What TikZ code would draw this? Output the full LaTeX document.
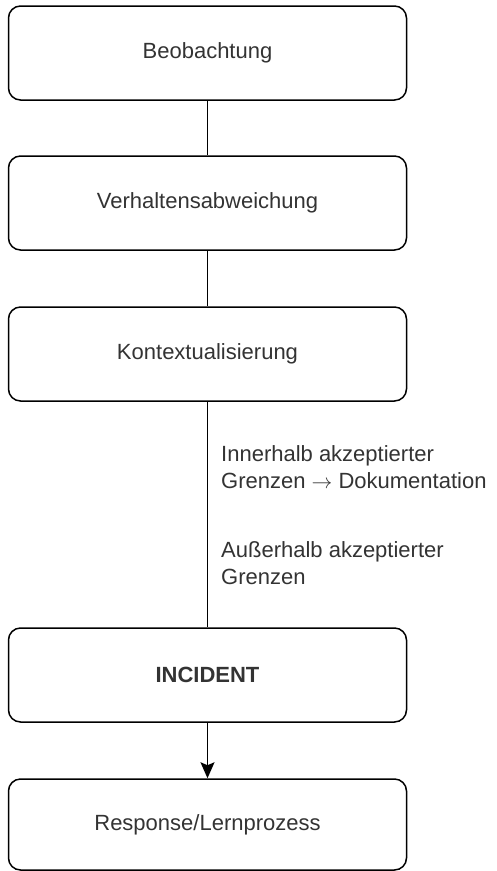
\documentclass[tikz,border=0pt]{standalone}
\usepackage{fontspec}
\setmainfont{Liberation Sans}
\usetikzlibrary{arrows.meta}
\definecolor{txt}{HTML}{333333}
\tikzset{
  box/.style={draw=black, line width=1.5pt, rounded corners=12pt, minimum width=398pt, minimum height=94pt, inner sep=0pt, text=txt, font=\fontsize{22}{27}\selectfont},
  lbl/.style={anchor=north west, align=left, inner sep=0pt, text=txt, font=\fontsize{22}{27}\selectfont},
  conn/.style={draw=black, line width=1.5pt},
}
\begin{document}
\begin{tikzpicture}[x=1pt,y=-1pt]
\useasboundingbox (0,0) rectangle (496,871);
\node[box] (b1) at (207.5,53) {Beobachtung};
\node[box] (b2) at (207.5,203) {Verhaltensabweichung};
\node[box] (b3) at (207.5,354) {Kontextualisierung};
\node[box, font=\fontsize{22}{27}\selectfont\bfseries] (b4) at (207.5,675) {INCIDENT};
\node[box, minimum height=91pt] (b5) at (207.5,824.5) {Response/Lernprozess};
\draw[conn] (b1) -- (b2);
\draw[conn] (b2) -- (b3);
\draw[conn] (b3) -- (b4);
\draw[conn, -{Stealth[length=16pt,width=14pt,inset=3pt]}] (b4) -- (b5);
\node[lbl] (l1) at (221,445) {Innerhalb akzeptierter\\Grenzen $\rightarrow$ Dokumentation};
\node[lbl] (l2) at (221,541) {Außerhalb akzeptierter\\Grenzen};
\end{tikzpicture}
\end{document}
